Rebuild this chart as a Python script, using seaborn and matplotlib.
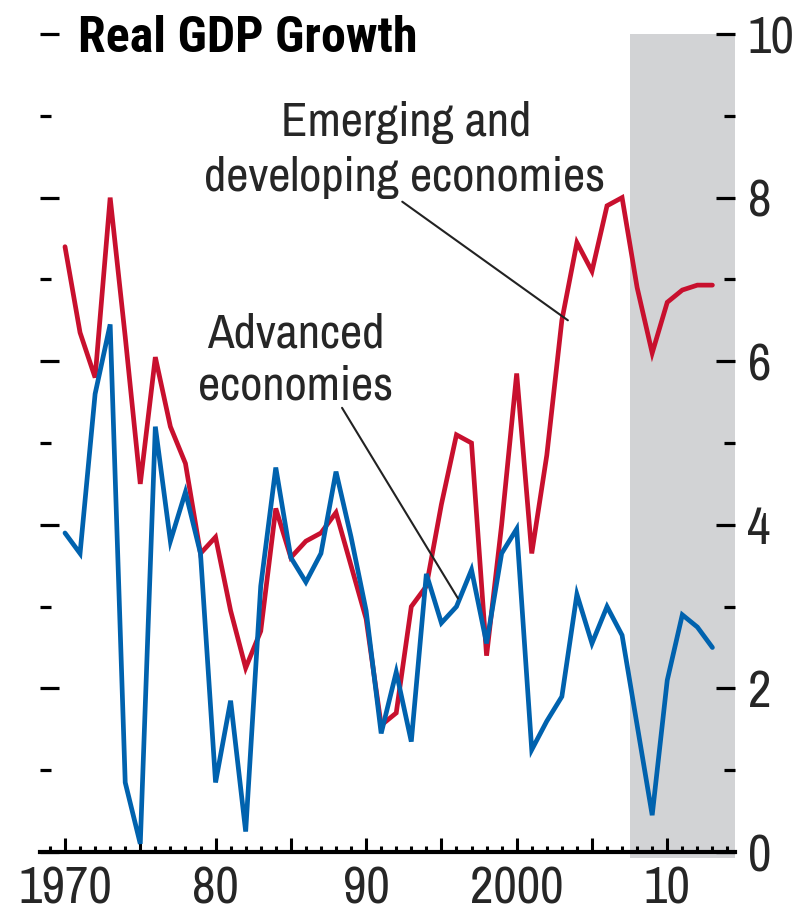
import numpy as np
import pandas as pd
import matplotlib
matplotlib.use("Agg")
import matplotlib.pyplot as plt
import seaborn as sns
from matplotlib.ticker import FixedLocator, MultipleLocator

# ---------------- data ----------------
years = list(range(1970, 2014))
advanced = [3.9, 3.65, 5.6, 6.45, 0.85, 0.1, 5.2, 3.8, 4.4, 3.65,
            0.85, 1.85, 0.25, 3.25, 4.7, 3.6, 3.3, 3.65, 4.65, 3.85,
            2.95, 1.45, 2.2, 1.35, 3.4, 2.8, 3.0, 3.45, 2.55, 3.65,
            3.95, 1.25, 1.6, 1.9, 3.15, 2.55, 3.0, 2.65, 1.55, 0.45,
            2.1, 2.9, 2.75, 2.5]
emerging = [7.4, 6.35, 5.8, 8.0, 6.3, 4.5, 6.05, 5.2, 4.75, 3.65,
            3.85, 2.95, 2.25, 2.7, 4.2, 3.6, 3.8, 3.9, 4.15, 3.5,
            2.85, 1.55, 1.7, 3.0, 3.25, 4.25, 5.1, 5.0, 2.4, 4.0,
            5.85, 3.65, 4.85, 6.5, 7.45, 7.1, 7.9, 8.0, 6.9, 6.1,
            6.72, 6.87, 6.93, 6.93]
x_major_ticks = [1970, 1975, 1980, 1985, 1990, 1995, 2000, 2005, 2010]
x_tick_labels = ["1970", "", "80", "", "90", "", "2000", "", "10"]
y_major_ticks = [0, 2, 4, 6, 8, 10]
y_tick_labels = ["0", "2", "4", "6", "8", "10"]
projection_start = 2007.5
title = "Real GDP Growth"
label_emerging = ["Emerging and", "developing economies"]
label_advanced = ["Advanced", "economies"]

df = pd.DataFrame({
    "year": years * 2,
    "growth": emerging + advanced,
    "group": ["Emerging"] * len(years) + ["Advanced"] * len(years),
})

# ---------------- style ----------------
sns.set_style("white")
FAM = ["Archivo Narrow", "Roboto Condensed", "Liberation Sans", "DejaVu Sans"]
TITLE_FAM = ["Roboto Condensed", "Saira Condensed", "Liberation Sans", "DejaVu Sans"]
plt.rcParams["font.family"] = FAM

W, H = 807, 915
fig = plt.figure(figsize=(W / 100, H / 100), dpi=100)
ax = fig.add_axes([40 / W, 57 / H, 695 / W, (858 - 34) / H])

x_left, x_right = 1968.34, 2014.5
ax.axvspan(projection_start, x_right, color="#D2D3D5", lw=0, zorder=0)

sns.lineplot(data=df, x="year", y="growth", hue="group",
             hue_order=["Emerging", "Advanced"],
             palette={"Emerging": "#C8102E", "Advanced": "#0062AE"},
             lw=3.4, legend=False, ax=ax, zorder=3)
for ln in ax.lines:
    ln.set_solid_joinstyle("miter")

ax.set_xlim(x_left, x_right)
ax.set_ylim(-6 / 82, 10)
ax.set_xlabel("")
ax.set_ylabel("")

for s in ["left", "right", "top"]:
    ax.spines[s].set_visible(False)
ax.spines["bottom"].set_position(("data", 0))
ax.spines["bottom"].set_linewidth(3)
ax.spines["bottom"].set_color("black")
ax.spines["bottom"].set_zorder(4)

# x ticks
ax.xaxis.set_major_locator(FixedLocator(x_major_ticks))
ax.set_xticklabels(x_tick_labels)
ax.xaxis.set_minor_locator(MultipleLocator(1))
ax.tick_params(axis="x", which="major", direction="in", length=10, width=2.2,
               color="black", labelsize=37, pad=10, bottom=True)
ax.tick_params(axis="x", which="minor", direction="in", length=4.5, width=2.2,
               color="black", bottom=True)

# y ticks (both sides, labels on right)
ax.yaxis.set_major_locator(FixedLocator(y_major_ticks))
ax.set_yticklabels(y_tick_labels)
ax.yaxis.set_minor_locator(MultipleLocator(1))
ax.yaxis.set_ticks_position("both")
ax.tick_params(axis="y", which="major", direction="in", length=13.5, width=2.3,
               color="black", labelsize=37, pad=9, left=True, right=True,
               labelleft=False, labelright=True)
ax.tick_params(axis="y", which="minor", direction="in", length=8, width=2.3,
               color="black", left=True, right=True)
for t in ax.get_yticklabels():
    t.set_horizontalalignment("left")

# title
fig.text(78 / W, 1 - 52 / H, title, ha="left", va="baseline",
         fontsize=36, fontweight="bold", color="black", family=TITLE_FAM)

# annotations
fig.text(406 / W, 1 - 136 / H, label_emerging[0], ha="center", va="baseline", fontsize=35)
fig.text(405 / W, 1 - 191 / H, label_emerging[1], ha="center", va="baseline", fontsize=35)
fig.text(296 / W, 1 - 348 / H, label_advanced[0], ha="center", va="baseline", fontsize=35)
fig.text(296 / W, 1 - 400 / H, label_advanced[1], ha="center", va="baseline", fontsize=35)

ax.annotate("", xy=(2003.4, 6.5), xytext=(1992.4, 7.95),
            arrowprops=dict(arrowstyle="-", lw=1.5, color="#222222",
                            shrinkA=0, shrinkB=0), zorder=5)
ax.annotate("", xy=(1996.1, 3.1), xytext=(1988.4, 5.43),
            arrowprops=dict(arrowstyle="-", lw=1.5, color="#222222",
                            shrinkA=0, shrinkB=0), zorder=5)

fig.savefig("out.png", dpi=100)
